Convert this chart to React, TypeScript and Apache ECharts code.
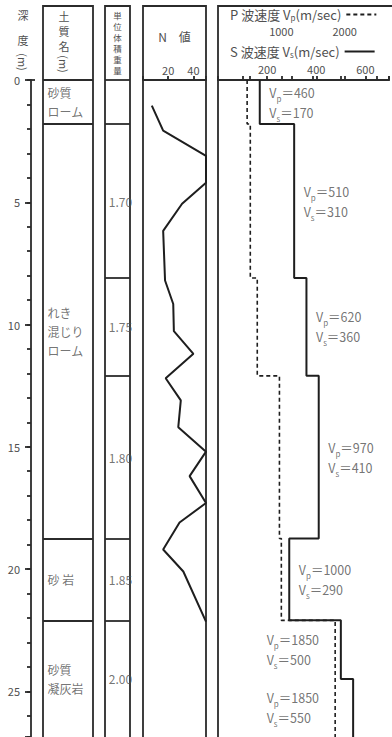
import React, { useEffect, useRef } from "react";
import * as echarts from "echarts";

const FONT = "'Noto Sans CJK JP', 'Noto Sans', sans-serif";
const LINE = "#2b2b2b";
const TEXT = "#505050";

const DEPTH_MAX = 26.87;

// 土質名 (soil names) and the depth (m) at which each layer starts
const soilNames = ["砂質\nローム", "れき\n混じり\nローム", "砂 岩", "砂質\n凝灰岩"];
const soilTops = [0, 1.8, 18.75, 22.1];

// 単位体積重量 (unit weight) per layer
const densityLabels = ["", "1.70", "1.75", "1.80", "1.85", "2.00"];
const densityTops = [0, 1.8, 8.1, 12.1, 18.75, 22.1];

// N 値 profile
const nDepths = [1.05, 2.07, 3.1, 4.2, 5.06, 6.17, 8.2, 9.16, 10.27, 11.2, 12.2, 13.1, 14.2, 15.2, 16.2, 17.3, 18.1, 19.2, 20.1, 22.15];
const nValues = [7, 16, 50, 50, 31, 16, 17.5, 24, 24.5, 40, 18, 30, 28, 50, 37, 50, 29, 16, 32, 50];

// Velocity layers
const velTops = [0, 1.8, 8.1, 12.1, 18.75, 22.1, 24.5];
const vpValues = [460, 510, 620, 970, 1000, 1850, 1850];
const vsValues = [170, 310, 360, 410, 290, 500, 550];
const labelBesideP = [false, false, false, false, false, true, true];

// tick labels
const depthTickLabels = [0, 5, 10, 15, 20, 25];
const nTickLabels = [20, 40];
const vpTickLabels = [1000, 2000];
const vsTickLabels = [200, 400, 600];

function bottoms(tops: number[]) {
  return tops.map((t, i) => (i + 1 < tops.length ? tops[i + 1] : DEPTH_MAX));
}
function mids(tops: number[]) {
  const b = bottoms(tops);
  return tops.map((t, i) => (t + b[i]) / 2);
}
function steps(values: number[], tops: number[]) {
  const b = bottoms(tops);
  const out: number[][] = [];
  values.forEach((v, i) => {
    out.push([v, tops[i]]);
    out.push([v, b[i]]);
  });
  return out;
}

const boundaryMarkLine = (tops: number[]) => ({
  silent: true,
  symbol: ["none", "none"],
  label: { show: false },
  lineStyle: { type: "solid", color: LINE, width: 1.8 },
  emphasis: { disabled: true },
  data: tops.slice(1).map((t) => ({ yAxis: t })),
});

const hiddenX = (gi: number) => ({ type: "value", gridIndex: gi, min: 0, max: 1, show: false });
const hiddenY = (gi: number) => ({ type: "value", gridIndex: gi, inverse: true, min: 0, max: DEPTH_MAX, show: false });

const vRich = {
  v: { fontSize: 12.5, color: TEXT, lineHeight: 20, fontFamily: FONT },
  sub: { fontSize: 8, color: TEXT, lineHeight: 13, verticalAlign: "bottom", fontFamily: FONT },
};
const vText = (p: number, s: number) => `{v|V}{sub|p}{v|＝${p}}\n{v|V}{sub|s}{v|＝${s}}`;

const headRich = {
  t: { fontSize: 13, color: TEXT, fontFamily: FONT },
  sub: { fontSize: 8, color: TEXT, fontFamily: FONT, verticalAlign: "bottom", lineHeight: 12 },
};

export default function App() {
  const ref = useRef<HTMLDivElement>(null);
  useEffect(() => {
    if (!ref.current) return;
    const chart = echarts.init(ref.current, null, { renderer: "svg" });
    const velMids = mids(velTops);
    const axisLineStyle = { color: LINE, width: 1.8 };

    const legendBase = {
      left: 230,
      padding: 0,
      align: "right",
      itemWidth: 30,
      itemHeight: 14,
      selectedMode: false,
      itemStyle: { opacity: 0, borderWidth: 0 },
    };

    const option: any = {
      animation: false,
      backgroundColor: "#fff",
      textStyle: { fontFamily: FONT },
      grid: [
        { left: 31, top: 80, width: 8, bottom: 0 },
        { left: 43, top: 80, width: 50, bottom: 0 },
        { left: 105, top: 80, width: 25, bottom: 0 },
        { left: 143, top: 80, width: 63, bottom: 0 },
        { left: 218, top: 80, right: 0, bottom: 0 },
      ],
      xAxis: [
        hiddenX(0),
        hiddenX(1),
        hiddenX(2),
        {
          type: "value",
          gridIndex: 3,
          position: "top",
          min: 0,
          max: 50,
          interval: 20,
          axisLine: { lineStyle: axisLineStyle },
          axisTick: { length: 4, lineStyle: axisLineStyle },
          axisLabel: {
            formatter: (v: number) => (nTickLabels.includes(v) ? String(v) : ""),
            fontSize: 11,
            color: TEXT,
            margin: 5,
          },
          splitLine: { show: false },
          name: "N　値",
          nameLocation: "middle",
          nameGap: 38,
          nameTextStyle: { fontSize: 12, color: TEXT, fontFamily: FONT },
        },
        {
          type: "value",
          gridIndex: 4,
          position: "top",
          offset: 38,
          min: 0,
          max: 2700,
          interval: 500,
          axisLine: { lineStyle: axisLineStyle },
          axisTick: { length: 4, lineStyle: axisLineStyle },
          axisLabel: {
            formatter: (v: number) => (vpTickLabels.includes(v) ? String(v) : ""),
            fontSize: 11,
            color: TEXT,
            margin: 6,
          },
          splitLine: { show: false },
        },
        {
          type: "value",
          gridIndex: 4,
          position: "top",
          offset: 0,
          min: 0,
          max: 696,
          interval: 100,
          axisLine: { lineStyle: axisLineStyle },
          axisTick: { length: 4, lineStyle: axisLineStyle },
          axisLabel: {
            formatter: (v: number) => (vsTickLabels.includes(v) ? String(v) : ""),
            fontSize: 11,
            color: TEXT,
            margin: 6,
          },
          splitLine: { show: false },
        },
      ],
      yAxis: [
        {
          type: "value",
          gridIndex: 0,
          position: "left",
          inverse: true,
          min: 0,
          max: DEPTH_MAX,
          interval: 1,
          axisLine: { show: true, lineStyle: axisLineStyle },
          axisTick: { show: true, length: 4, lineStyle: axisLineStyle },
          axisLabel: {
            formatter: (v: number) => (depthTickLabels.includes(v) ? String(v) : ""),
            fontSize: 11,
            color: TEXT,
            margin: 11,
          },
          splitLine: { show: false },
        },
        hiddenY(1),
        hiddenY(2),
        hiddenY(3),
        hiddenY(4),
        {
          type: "value",
          gridIndex: 0,
          position: "left",
          offset: 0,
          inverse: true,
          min: 0,
          max: DEPTH_MAX,
          interval: 5,
          axisLine: { show: false },
          axisTick: { show: true, length: 6, lineStyle: axisLineStyle },
          axisLabel: { show: false },
          splitLine: { show: false },
        },
      ],
      legend: [
        {
          ...legendBase,
          data: ["P"],
          top: 8,
          formatter: () => "{t|P 波速度 V}{sub|p}{t|(m/sec)}",
          textStyle: { rich: headRich },
        },
        {
          ...legendBase,
          data: ["S"],
          top: 45,
          formatter: () => "{t|S 波速度 V}{sub|s}{t|(m/sec)}",
          textStyle: { rich: headRich },
        },
      ],
      series: [
        {
          type: "scatter",
          name: "soil",
          xAxisIndex: 1,
          yAxisIndex: 1,
          symbolSize: 1,
          itemStyle: { color: "transparent" },
          silent: true,
          data: soilNames.map((n, i) => ({ value: [0, mids(soilTops)[i]], name: n })),
          label: {
            show: true,
            position: "right",
            distance: 4,
            formatter: "{b}",
            fontSize: 12,
            lineHeight: 19,
            color: TEXT,
            fontFamily: FONT,
          },
          markLine: boundaryMarkLine(soilTops),
        },
        {
          type: "scatter",
          name: "density",
          xAxisIndex: 2,
          yAxisIndex: 2,
          symbolSize: 1,
          itemStyle: { color: "transparent" },
          silent: true,
          data: densityLabels.map((n, i) => ({ value: [0.5, mids(densityTops)[i]], name: n })),
          label: {
            show: true,
            position: "inside",
            offset: [3, 0],
            formatter: "{b}",
            fontSize: 12,
            color: TEXT,
            fontFamily: FONT,
          },
          markLine: boundaryMarkLine(densityTops),
        },
        {
          type: "line",
          name: "N",
          xAxisIndex: 3,
          yAxisIndex: 3,
          symbol: "none",
          clip: false,
          lineStyle: { color: "#1e1e1e", width: 2 },
          data: nDepths.map((d, i) => [nValues[i], d]),
        },
        {
          type: "line",
          name: "P",
          xAxisIndex: 4,
          yAxisIndex: 4,
          symbol: "none",
          clip: false,
          color: "#1e1e1e",
          lineStyle: { color: "#1e1e1e", width: 1.6, type: [4, 3] },
          data: steps(vpValues, velTops),
        },
        {
          type: "line",
          name: "S",
          xAxisIndex: 5,
          yAxisIndex: 4,
          symbol: "none",
          clip: false,
          color: "#1e1e1e",
          lineStyle: { color: "#1e1e1e", width: 2 },
          data: steps(vsValues, velTops),
        },
        {
          type: "scatter",
          name: "vsLabels",
          xAxisIndex: 5,
          yAxisIndex: 4,
          symbolSize: 1,
          itemStyle: { color: "transparent" },
          silent: true,
          data: vsValues
            .map((v, i) => ({ value: [v, velMids[i]], name: vText(vpValues[i], v), i }))
            .filter((d) => !labelBesideP[d.i])
            .map(({ value, name }) => ({ value, name })),
          label: {
            show: true,
            position: "right",
            distance: 9,
            formatter: "{b}",
            rich: vRich,
          },
        },
        {
          type: "scatter",
          name: "vpLabels",
          xAxisIndex: 4,
          yAxisIndex: 4,
          symbolSize: 1,
          itemStyle: { color: "transparent" },
          silent: true,
          data: vpValues
            .map((v, i) => ({ value: [v, velMids[i]], name: vText(v, vsValues[i]), i }))
            .filter((d) => labelBesideP[d.i])
            .map(({ value, name }) => ({ value, name })),
          label: {
            show: true,
            position: [-68, 0],
            verticalAlign: "middle",
            align: "left",
            formatter: "{b}",
            rich: vRich,
          },
        },
      ],
      graphic: [
        { type: "rect", shape: { x: 43, y: 6, width: 50, height: 800 }, style: { fill: "none", stroke: LINE, lineWidth: 1.8 }, silent: true },
        { type: "rect", shape: { x: 105, y: 6, width: 25, height: 800 }, style: { fill: "none", stroke: LINE, lineWidth: 1.8 }, silent: true },
        { type: "rect", shape: { x: 143, y: 6, width: 63, height: 800 }, style: { fill: "none", stroke: LINE, lineWidth: 1.8 }, silent: true },
        { type: "rect", shape: { x: 218, y: 6, width: 300, height: 800 }, style: { fill: "none", stroke: LINE, lineWidth: 1.8 }, silent: true },
        { type: "line", shape: { x1: 43, y1: 80, x2: 93, y2: 80 }, style: { stroke: LINE, lineWidth: 1.8 }, silent: true },
        { type: "line", shape: { x1: 105, y1: 80, x2: 130, y2: 80 }, style: { stroke: LINE, lineWidth: 1.8 }, silent: true },
        { type: "line", shape: { x1: 31, y1: 80, x2: 35, y2: 80 }, style: { stroke: LINE, lineWidth: 1.8 }, silent: true },
        // 深度(m)
        { type: "text", x: 23, y: 15, style: { text: "深", fontSize: 11, fill: TEXT, align: "center", verticalAlign: "middle", fontFamily: FONT } },
        { type: "text", x: 23, y: 40, style: { text: "度", fontSize: 11, fill: TEXT, align: "center", verticalAlign: "middle", fontFamily: FONT } },
        { type: "text", x: 23, y: 62, rotation: -Math.PI / 2, style: { text: "(m)", fontSize: 11, fill: TEXT, align: "center", verticalAlign: "middle", fontFamily: FONT } },
        // 土質名(m)
        { type: "text", x: 64, y: 8, style: { text: "土\n質\n名", fontSize: 11, lineHeight: 15, fill: TEXT, align: "center", verticalAlign: "top", fontFamily: FONT } },
        { type: "text", x: 64, y: 64, rotation: -Math.PI / 2, style: { text: "(m)", fontSize: 11, fill: TEXT, align: "center", verticalAlign: "middle", fontFamily: FONT } },
        // 単位体積重量
        { type: "text", x: 117.5, y: 9, style: { text: "単\n位\n体\n積\n重\n量", fontSize: 8.5, lineHeight: 11, fill: TEXT, align: "center", verticalAlign: "top", fontFamily: FONT } },
      ],
    };
    chart.setOption(option);
    return () => chart.dispose();
  }, []);
  return (
    <div
      ref={ref}
      style={{ position: "absolute", left: 0, top: 0, width: 392, height: 737, background: "#fff" }}
    />
  );
}
